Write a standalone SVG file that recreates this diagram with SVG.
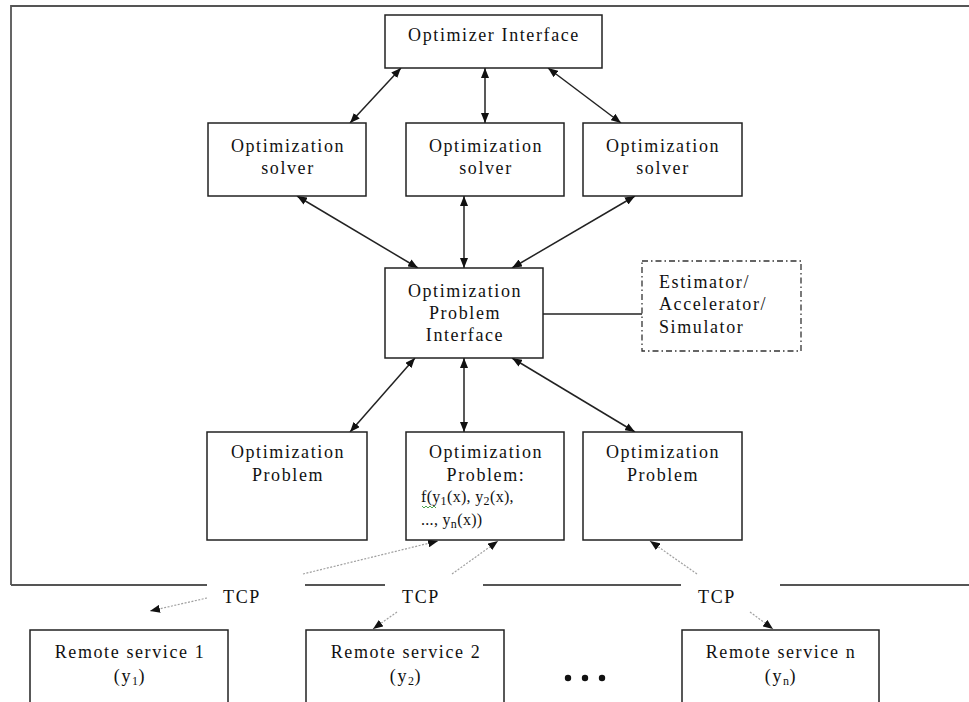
<svg xmlns="http://www.w3.org/2000/svg" width="969" height="702" viewBox="0 0 969 702">
<style>
.bx{fill:#fff;stroke:#222;stroke-width:1.5}
.dd{fill:#fff;stroke:#333;stroke-width:1.3;stroke-dasharray:6 3 1.5 3}
.t{font-family:"Liberation Serif","Times New Roman",serif;font-size:18px;letter-spacing:1.6px;fill:#111}
.m{text-anchor:middle}
.fr{stroke:#555;stroke-width:1.8;fill:none}
.ar{stroke:#222;stroke-width:1.5;fill:none;marker-start:url(#ah);marker-end:url(#ah)}
.ln{stroke:#222;stroke-width:1.5;fill:none}
.dt{stroke:#a0a0a0;stroke-width:1.2;stroke-dasharray:2 1.5;fill:none}
.s{font-size:12px;letter-spacing:0.5px}
.f{font-size:16px;letter-spacing:0.3px}
</style>
<defs>
<marker id="ah" viewBox="0 0 10 8" refX="10" refY="4" markerWidth="10" markerHeight="8" markerUnits="userSpaceOnUse" orient="auto-start-reverse">
<path d="M0,0 L10,4 L0,8 z" fill="#111"/>
</marker>
</defs>
<rect width="969" height="702" fill="#fff"/>
<g id="frame">
<path class="fr" d="M11,585 L11,6 L969,6"/>
<path class="fr" d="M11,585 H207 M305,585 H385 M483,585 H681 M780,585 H969"/>
</g>
<g id="connectors">
<line class="ar" x1="401" y1="68" x2="350" y2="123"/>
<line class="ar" x1="485" y1="68" x2="485" y2="123"/>
<line class="ar" x1="548" y1="68" x2="621" y2="123"/>
<line class="ar" x1="297" y1="196" x2="418" y2="268"/>
<line class="ar" x1="464" y1="196" x2="464" y2="268"/>
<line class="ar" x1="635" y1="196" x2="512" y2="268"/>
<line class="ar" x1="415" y1="358" x2="350" y2="432"/>
<line class="ar" x1="464" y1="358" x2="464" y2="432"/>
<line class="ar" x1="512" y1="358" x2="635" y2="432"/>
<line class="ln" x1="543" y1="314" x2="642" y2="314"/>
<line class="dt" x1="303" y1="574" x2="438" y2="541" marker-end="url(#ah)"/>
<line class="dt" x1="207" y1="598" x2="150" y2="611" marker-end="url(#ah)"/>
<line class="dt" x1="452" y1="574" x2="498" y2="541" marker-end="url(#ah)"/>
<line class="dt" x1="397" y1="612" x2="373" y2="629" marker-end="url(#ah)"/>
<line class="dt" x1="697" y1="574" x2="650" y2="541" marker-end="url(#ah)"/>
<line class="dt" x1="750" y1="612" x2="773" y2="629" marker-end="url(#ah)"/>
</g>
<g id="optimizer-interface">
<rect class="bx" x="385" y="15" width="217" height="53"/>
<text class="t m" x="494" y="41">Optimizer Interface</text>
</g>
<g id="solver-1">
<rect class="bx" x="208" y="123" width="158" height="73"/>
<text class="t m" x="288" y="152">Optimization</text>
<text class="t m" x="288" y="174">solver</text>
</g>
<g id="solver-2">
<rect class="bx" x="406" y="123" width="158" height="73"/>
<text class="t m" x="486" y="152">Optimization</text>
<text class="t m" x="486" y="174">solver</text>
</g>
<g id="solver-3">
<rect class="bx" x="583" y="123" width="159" height="73"/>
<text class="t m" x="663" y="152">Optimization</text>
<text class="t m" x="663" y="174">solver</text>
</g>
<g id="problem-interface">
<rect class="bx" x="385" y="268" width="158" height="90"/>
<text class="t m" x="465" y="297">Optimization</text>
<text class="t m" x="465" y="319">Problem</text>
<text class="t m" x="465" y="341">Interface</text>
</g>
<g id="estimator">
<rect class="dd" x="642" y="261" width="159" height="90"/>
<text class="t" x="659" y="288">Estimator/</text>
<text class="t" x="659" y="310">Accelerator/</text>
<text class="t" x="659" y="333">Simulator</text>
</g>
<g id="problem-1">
<rect class="bx" x="207" y="432" width="160" height="108"/>
<text class="t m" x="288" y="458">Optimization</text>
<text class="t m" x="288" y="481">Problem</text>
</g>
<g id="problem-2">
<rect class="bx" x="406" y="432" width="158" height="108"/>
<text class="t m" x="486" y="458">Optimization</text>
<text class="t m" x="486" y="481">Problem:</text>
<text class="t f" x="421" y="502">f(y<tspan class="s" dy="3">1</tspan><tspan dy="-3">(x), y</tspan><tspan class="s" dy="3">2</tspan><tspan dy="-3">(x),</tspan></text>
<text class="t f" x="421" y="525">..., y<tspan class="s" dy="3">n</tspan><tspan dy="-3">(x))</tspan></text>
<path d="M422,506 l2,2 l2,-2 l2,2 l2,-2 l2,2 l2,-2 l2,2" fill="none" stroke="#3a9a3a" stroke-width="0.9"/>
</g>
<g id="problem-3">
<rect class="bx" x="583" y="432" width="159" height="108"/>
<text class="t m" x="663" y="458">Optimization</text>
<text class="t m" x="663" y="481">Problem</text>
</g>
<g id="tcp-labels">
<text class="t m" x="242" y="603">TCP</text>
<text class="t m" x="421" y="603">TCP</text>
<text class="t m" x="717" y="603">TCP</text>
</g>
<g id="remote-1">
<rect class="bx" x="30" y="630" width="198" height="82"/>
<text class="t m" x="130" y="658">Remote service 1</text>
<text class="t m" x="130" y="682">(y<tspan class="s" dy="3">1</tspan><tspan dy="-3">)</tspan></text>
</g>
<g id="remote-2">
<rect class="bx" x="306" y="630" width="198" height="82"/>
<text class="t m" x="406" y="658">Remote service 2</text>
<text class="t m" x="406" y="682">(y<tspan class="s" dy="3">2</tspan><tspan dy="-3">)</tspan></text>
</g>
<g id="remote-n">
<rect class="bx" x="682" y="630" width="197" height="82"/>
<text class="t m" x="781" y="658">Remote service n</text>
<text class="t m" x="781" y="682">(y<tspan class="s" dy="3">n</tspan><tspan dy="-3">)</tspan></text>
</g>
<g id="ellipsis" fill="#111">
<circle cx="568" cy="678" r="3.2"/>
<circle cx="585" cy="678" r="3.2"/>
<circle cx="602" cy="678" r="3.2"/>
</g>
</svg>
